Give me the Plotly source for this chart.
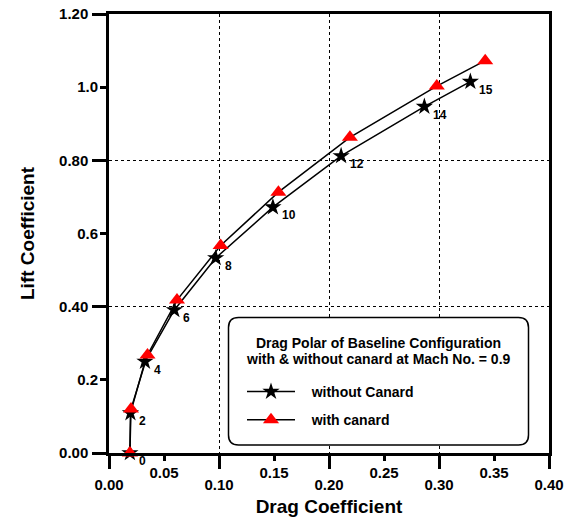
import plotly.graph_objects as go

# ---------------- data ----------------
aoa = [0, 2, 4, 6, 8, 10, 12, 14, 15]
cd_without = [0.019, 0.0195, 0.0327, 0.0594, 0.097, 0.149, 0.211, 0.2867, 0.3285]
cl_without = [0.0, 0.109, 0.250, 0.391, 0.533, 0.672, 0.812, 0.947, 1.015]
cd_with = [0.019, 0.020, 0.035, 0.0618, 0.1015, 0.154, 0.219, 0.298, 0.342]
cl_with = [0.0, 0.120, 0.268, 0.418, 0.567, 0.713, 0.863, 1.003, 1.0725]

x_major = [0.0, 0.10, 0.20, 0.30, 0.40]
x_major_text = ["0.00", "0.10", "0.20", "0.30", "0.40"]
x_minor = [0.05, 0.15, 0.25, 0.35]
x_minor_text = ["0.05", "0.15", "0.25", "0.35"]
y_major = [0.0, 0.40, 0.80, 1.20]
y_major_text = ["0.00", "0.40", "0.80", "1.20"]
y_minor = [0.2, 0.6, 1.0]
y_minor_text = ["0.2", "0.6", "1.0"]

legend_title_lines = ["Drag Polar of Baseline Configuration",
                      "with & without canard at Mach No. = 0.9"]
name_without = "without Canard"
name_with = "with canard"

FONT = "Liberation Sans, Arial, sans-serif"
W, H = 580, 520
ML, MR, MT, MB = 109, 31, 14, 67
PW, PH = W - ML - MR, H - MT - MB


def px_x(p):
    return (p - ML) / PW


def px_y(p):
    return (H - MB - p) / PH


fig = go.Figure()

fig.add_trace(go.Scatter(
    x=cd_without, y=cl_without, mode="lines+markers", name="\u00a0\u00a0\u00a0" + name_without,
    legendgroup="a", cliponaxis=False,
    line=dict(color="black", width=1.5),
    marker=dict(symbol="star", size=13, color="black"),
))
fig.add_trace(go.Scatter(
    x=cd_with, y=cl_with, mode="lines+markers", name="\u00a0\u00a0\u00a0" + name_with,
    legendgroup="b", cliponaxis=False,
    line=dict(color="black", width=1.5),
    marker=dict(symbol="triangle-up", size=14, color="red"),
))

# angle-of-attack labels
for a, x, y in zip(aoa, cd_without, cl_without):
    fig.add_annotation(x=x, y=y, text=str(a), showarrow=False, xanchor="left",
                       yanchor="middle", xshift=7, yshift=-8,
                       font=dict(family=FONT, size=12, color="black", weight="bold"))

# rounded legend box
x0, x1 = px_x(228.5), px_x(528.5)
y0, y1 = px_y(445), px_y(317.5)
rx, ry = 10 / PW, 10 / PH
path = (f"M {x0+rx},{y1} L {x1-rx},{y1} Q {x1},{y1} {x1},{y1-ry} "
        f"L {x1},{y0+ry} Q {x1},{y0} {x1-rx},{y0} L {x0+rx},{y0} "
        f"Q {x0},{y0} {x0},{y0+ry} L {x0},{y1-ry} Q {x0},{y1} {x0+rx},{y1} Z")
fig.add_shape(type="path", path=path, xref="paper", yref="paper",
              line=dict(color="black", width=1.5), fillcolor="white", layer="above")

# legend title lines
for line_text, ypx in zip(legend_title_lines, [343.3, 359.3]):
    fig.add_annotation(x=px_x(378.7), y=px_y(ypx), xref="paper", yref="paper",
                       text=line_text, showarrow=False, xanchor="center", yanchor="middle",
                       font=dict(family=FONT, size=14, color="black", weight="bold"))

tickfont = dict(family=FONT, size=15, color="black", weight="bold")

fig.update_layout(
    width=W, height=H,
    margin=dict(l=ML, r=MR, t=MT, b=MB),
    paper_bgcolor="white", plot_bgcolor="white",
    font=dict(family=FONT, color="black"),
    showlegend=True,
    legend=dict(
        x=px_x(242), y=px_y(376), xanchor="left", yanchor="top",
        bgcolor="rgba(0,0,0,0)", borderwidth=0,
        itemwidth=48, tracegroupgap=7,
        font=dict(family=FONT, size=14, color="black", weight="bold"),
    ),
    xaxis=dict(
        range=[0, 0.40], tickmode="array", tickvals=x_major, ticktext=x_major_text,
        ticks="outside", ticklen=13, tickwidth=2.5, tickcolor="black",
        showline=True, linewidth=2.5, linecolor="black", mirror=True,
        showgrid=True, gridcolor="black", gridwidth=1, griddash="dot",
        zeroline=False, tickfont=tickfont, ticklabelstandoff=3, automargin=False,
        title=dict(text="Drag Coefficient",
                   font=dict(family=FONT, size=19, color="black", weight="bold"),
                   standoff=8),
    ),
    xaxis2=dict(
        overlaying="x", matches="x", anchor="y", side="bottom",
        tickmode="array", tickvals=x_minor, ticktext=x_minor_text,
        ticks="outside", ticklen=7, tickwidth=2.5, tickcolor="black",
        showline=False, showgrid=False, zeroline=False, tickfont=tickfont,
        ticklabelstandoff=-1, automargin=False,
    ),
    yaxis=dict(
        range=[0, 1.20], tickmode="array", tickvals=y_major, ticktext=y_major_text,
        ticks="outside", ticklen=14, tickwidth=2.5, tickcolor="black",
        showline=True, linewidth=2.5, linecolor="black", mirror=True,
        showgrid=True, gridcolor="black", gridwidth=1, griddash="dot",
        zeroline=False, tickfont=tickfont, ticklabelstandoff=1, automargin=False,
        title=dict(text="Lift Coefficient",
                   font=dict(family=FONT, size=19, color="black", weight="bold"),
                   standoff=20),
    ),
    yaxis2=dict(
        overlaying="y", matches="y", anchor="x", side="left",
        tickmode="array", tickvals=y_minor, ticktext=y_minor_text,
        ticks="outside", ticklen=8, tickwidth=2.5, tickcolor="black",
        showline=False, showgrid=False, zeroline=False, tickfont=tickfont,
        ticklabelstandoff=-1, automargin=False,
    ),
)

# invisible trace to activate the secondary axes
fig.add_trace(go.Scatter(x=[None], y=[None], xaxis="x2", yaxis="y2",
                         showlegend=False, hoverinfo="skip"))

fig.write_html("out.html")
